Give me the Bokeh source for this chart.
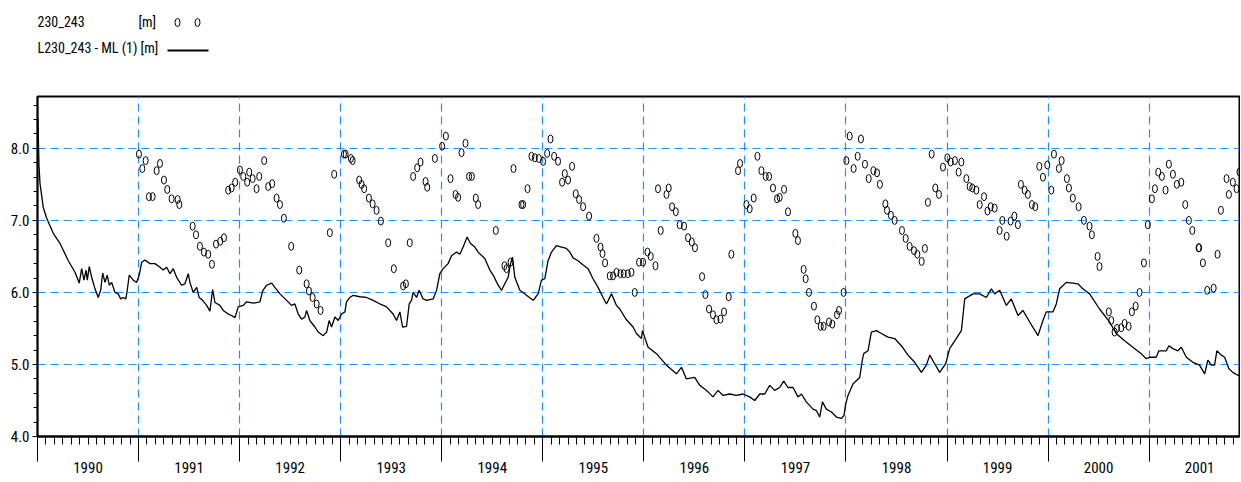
from bokeh.plotting import figure
from bokeh.models import (Range1d, LinearAxis, FixedTicker, SingleIntervalTicker,
                          PrintfTickFormatter, CustomJSTickFormatter, Grid, ColumnDataSource)
from bokeh.layouts import column
from bokeh.core.properties import value
from bokeh.embed import file_html
from bokeh.resources import INLINE

# ---------------- data (decimal years, metres) ----------------
years = list(range(1990, 2002))
year_labels = [str(y) for y in years]

line_t = [1990.004, 1990.015, 1990.025, 1990.057, 1990.091, 1990.156, 1990.223, 1990.305, 1990.371, 1990.413, 1990.437,
          1990.460, 1990.480, 1990.493, 1990.512, 1990.536, 1990.569, 1990.601, 1990.625, 1990.645, 1990.668,
          1990.690, 1990.710, 1990.734, 1990.767, 1990.799, 1990.823, 1990.849, 1990.875, 1990.888, 1990.908,
          1990.948, 1990.981, 1991.007, 1991.031, 1991.063, 1991.113, 1991.162, 1991.212, 1991.244, 1991.278,
          1991.311, 1991.343, 1991.377, 1991.426, 1991.459, 1991.492, 1991.508, 1991.541, 1991.575, 1991.600,
          1991.634, 1991.674, 1991.706, 1991.733, 1991.756, 1991.805, 1991.838, 1991.887, 1991.921, 1991.954,
          1991.986, 1992.036, 1992.069, 1992.135, 1992.201, 1992.228, 1992.267, 1992.317, 1992.349, 1992.399,
          1992.465, 1992.514, 1992.547, 1992.580, 1992.613, 1992.646, 1992.663, 1992.695, 1992.745, 1992.778,
          1992.827, 1992.861, 1992.886, 1992.910, 1992.943, 1992.975, 1993.009, 1993.042, 1993.058, 1993.091,
          1993.124, 1993.190, 1993.256, 1993.322, 1993.388, 1993.454, 1993.519, 1993.553, 1993.586, 1993.612,
          1993.652, 1993.678, 1993.701, 1993.717, 1993.751, 1993.776, 1993.816, 1993.850, 1993.915, 1993.949,
          1993.981, 1994.014, 1994.063, 1994.097, 1994.146, 1994.179, 1994.212, 1994.251, 1994.285, 1994.327,
          1994.360, 1994.426, 1994.476, 1994.509, 1994.558, 1994.592, 1994.624, 1994.657, 1994.681, 1994.700,
          1994.723, 1994.773, 1994.839, 1994.904, 1994.954, 1994.987, 1995.020, 1995.052, 1995.086, 1995.135,
          1995.185, 1995.234, 1995.267, 1995.300, 1995.349, 1995.399, 1995.448, 1995.497, 1995.547, 1995.596,
          1995.630, 1995.680, 1995.729, 1995.762, 1995.828, 1995.893, 1995.927, 1995.976, 1995.986, 1996.042,
          1996.125, 1996.224, 1996.322, 1996.372, 1996.421, 1996.503, 1996.553, 1996.635, 1996.684, 1996.734,
          1996.783, 1996.850, 1996.916, 1996.981, 1997.047, 1997.097, 1997.147, 1997.196, 1997.245, 1997.295,
          1997.344, 1997.384, 1997.426, 1997.476, 1997.525, 1997.559, 1997.608, 1997.674, 1997.707, 1997.740,
          1997.767, 1997.806, 1997.856, 1997.905, 1997.954, 1997.980, 1997.997, 1998.020, 1998.069, 1998.136,
          1998.162, 1998.175, 1998.218, 1998.251, 1998.301, 1998.350, 1998.416, 1998.482, 1998.548, 1998.614,
          1998.680, 1998.746, 1998.795, 1998.829, 1998.878, 1998.927, 1998.987, 1999.026, 1999.142, 1999.175,
          1999.257, 1999.323, 1999.389, 1999.439, 1999.472, 1999.521, 1999.587, 1999.636, 1999.702, 1999.751,
          1999.818, 1999.900, 1999.949, 1999.982, 2000.048, 2000.081, 2000.114, 2000.180, 2000.246, 2000.295,
          2000.344, 2000.411, 2000.509, 2000.608, 2000.674, 2000.757, 2000.839, 2000.922, 2000.971, 2001.004,
          2001.070, 2001.096, 2001.170, 2001.196, 2001.235, 2001.285, 2001.318, 2001.368, 2001.433, 2001.499,
          2001.549, 2001.581, 2001.615, 2001.647, 2001.670, 2001.714, 2001.747, 2001.789, 2001.828, 2001.878,
          2001.894]
line_v = [8.42, 7.75, 7.51, 7.18, 7.03, 6.82, 6.68, 6.44, 6.28, 6.13, 6.33,
          6.17, 6.31, 6.17, 6.36, 6.21, 6.05, 5.93, 6.03, 6.27, 6.14,
          6.24, 6.10, 6.14, 6.00, 5.98, 5.91, 5.93, 5.91, 6.03, 6.24,
          6.17, 6.14, 6.24, 6.42, 6.45, 6.40, 6.40, 6.35, 6.31, 6.35,
          6.26, 6.33, 6.21, 6.10, 6.12, 6.26, 6.14, 6.00, 6.07, 5.93,
          5.89, 5.82, 5.74, 6.04, 5.86, 5.82, 5.75, 5.70, 5.68, 5.65,
          5.80, 5.82, 5.87, 5.85, 5.87, 6.02, 6.10, 6.13, 6.07, 5.98,
          5.89, 5.82, 5.84, 5.70, 5.63, 5.66, 5.75, 5.61, 5.52, 5.45,
          5.40, 5.45, 5.61, 5.52, 5.66, 5.61, 5.70, 5.73, 5.87, 5.93,
          5.96, 5.94, 5.93, 5.89, 5.84, 5.80, 5.70, 5.61, 5.73, 5.52,
          5.53, 5.84, 5.89, 6.00, 5.93, 6.03, 5.91, 5.89, 5.91, 6.03,
          6.26, 6.33, 6.40, 6.51, 6.56, 6.53, 6.63, 6.77, 6.68, 6.63,
          6.56, 6.47, 6.31, 6.24, 6.10, 6.03, 6.12, 6.21, 6.40, 6.49,
          6.21, 6.03, 5.96, 5.89, 5.98, 6.17, 6.19, 6.44, 6.56, 6.65,
          6.63, 6.61, 6.56, 6.48, 6.44, 6.38, 6.33, 6.19, 6.07, 5.93,
          5.84, 5.98, 5.82, 5.77, 5.62, 5.52, 5.43, 5.36, 5.47, 5.24,
          5.15, 4.99, 4.87, 4.96, 4.80, 4.82, 4.71, 4.62, 4.55, 4.64,
          4.57, 4.59, 4.57, 4.59, 4.55, 4.50, 4.59, 4.59, 4.71, 4.64,
          4.68, 4.77, 4.68, 4.68, 4.55, 4.59, 4.48, 4.38, 4.36, 4.27,
          4.48, 4.38, 4.34, 4.27, 4.25, 4.29, 4.45, 4.57, 4.73, 4.82,
          5.06, 5.15, 5.19, 5.45, 5.47, 5.43, 5.38, 5.36, 5.26, 5.13,
          5.03, 4.89, 4.99, 5.13, 5.01, 4.89, 5.01, 5.22, 5.47, 5.91,
          5.98, 5.98, 5.93, 6.05, 5.98, 6.03, 5.82, 5.91, 5.68, 5.75,
          5.59, 5.40, 5.61, 5.73, 5.73, 5.84, 6.05, 6.14, 6.13, 6.12,
          6.05, 5.98, 5.77, 5.59, 5.43, 5.33, 5.24, 5.15, 5.08, 5.10,
          5.10, 5.19, 5.19, 5.26, 5.22, 5.19, 5.24, 5.10, 5.03, 4.99,
          4.87, 5.06, 4.99, 4.99, 5.19, 5.13, 5.10, 4.94, 4.89, 4.85,
          4.85]

obs_t = [1991.004, 1991.037, 1991.070, 1991.103, 1991.139, 1991.179, 1991.212, 1991.251, 1991.284, 1991.327,
         1991.387, 1991.403, 1991.535, 1991.568, 1991.607, 1991.647, 1991.689, 1991.726, 1991.766, 1991.808,
         1991.845, 1991.887, 1991.921, 1991.956, 1992.003, 1992.036, 1992.075, 1992.095, 1992.129, 1992.168,
         1992.194, 1992.243, 1992.283, 1992.322, 1992.366, 1992.399, 1992.438, 1992.510, 1992.590, 1992.663,
         1992.686, 1992.722, 1992.762, 1992.801, 1992.893, 1992.936, 1993.032, 1993.049, 1993.101, 1993.118,
         1993.183, 1993.207, 1993.232, 1993.279, 1993.316, 1993.355, 1993.398, 1993.470, 1993.526, 1993.618,
         1993.645, 1993.684, 1993.717, 1993.757, 1993.790, 1993.840, 1993.856, 1993.932, 1994.004, 1994.041,
         1994.087, 1994.137, 1994.162, 1994.196, 1994.235, 1994.271, 1994.298, 1994.337, 1994.360, 1994.535,
         1994.621, 1994.641, 1994.681, 1994.710, 1994.789, 1994.805, 1994.849, 1994.888, 1994.921, 1994.961,
         1995.003, 1995.043, 1995.076, 1995.112, 1995.151, 1995.191, 1995.218, 1995.250, 1995.290, 1995.326,
         1995.359, 1995.399, 1995.458, 1995.531, 1995.571, 1995.591, 1995.616, 1995.663, 1995.695, 1995.729,
         1995.769, 1995.801, 1995.841, 1995.877, 1995.910, 1995.953, 1995.992, 1996.036, 1996.068, 1996.115,
         1996.140, 1996.167, 1996.224, 1996.246, 1996.279, 1996.316, 1996.355, 1996.398, 1996.437, 1996.474,
         1996.506, 1996.576, 1996.609, 1996.645, 1996.684, 1996.718, 1996.758, 1996.793, 1996.840, 1996.866,
         1996.932, 1996.952, 1997.015, 1997.047, 1997.087, 1997.124, 1997.163, 1997.206, 1997.239, 1997.278,
         1997.318, 1997.344, 1997.387, 1997.426, 1997.499, 1997.525, 1997.581, 1997.601, 1997.634, 1997.683,
         1997.717, 1997.750, 1997.779, 1997.832, 1997.865, 1997.911, 1997.931, 1997.977, 1998.004, 1998.037,
         1998.076, 1998.116, 1998.148, 1998.188, 1998.225, 1998.271, 1998.307, 1998.336, 1998.390, 1998.406,
         1998.445, 1998.482, 1998.554, 1998.591, 1998.630, 1998.673, 1998.706, 1998.749, 1998.781, 1998.811,
         1998.848, 1998.884, 1998.920, 1998.960, 1999.003, 1999.036, 1999.078, 1999.115, 1999.142, 1999.191,
         1999.224, 1999.250, 1999.290, 1999.323, 1999.366, 1999.400, 1999.432, 1999.471, 1999.520, 1999.547,
         1999.590, 1999.629, 1999.666, 1999.701, 1999.731, 1999.768, 1999.800, 1999.840, 1999.873, 1999.913,
         1999.949, 1999.992, 2000.032, 2000.058, 2000.107, 2000.134, 2000.186, 2000.206, 2000.245, 2000.302,
         2000.354, 2000.410, 2000.433, 2000.490, 2000.509, 2000.601, 2000.625, 2000.658, 2000.681, 2000.724,
         2000.757, 2000.797, 2000.829, 2000.866, 2000.905, 2000.948, 2000.987, 2001.027, 2001.057, 2001.090,
         2001.126, 2001.162, 2001.195, 2001.235, 2001.274, 2001.318, 2001.357, 2001.393, 2001.427, 2001.489,
         2001.494, 2001.532, 2001.575, 2001.638, 2001.677, 2001.710, 2001.766, 2001.789, 2001.828, 2001.865,
         2001.894]
obs_v = [7.92, 7.72, 7.83, 7.33, 7.33, 7.69, 7.79, 7.56, 7.43, 7.30,
         7.29, 7.22, 6.92, 6.80, 6.64, 6.56, 6.53, 6.39, 6.67, 6.71,
         6.76, 7.42, 7.45, 7.53, 7.70, 7.61, 7.53, 7.67, 7.58, 7.44,
         7.61, 7.83, 7.47, 7.51, 7.31, 7.22, 7.03, 6.64, 6.31, 6.12,
         6.02, 5.93, 5.84, 5.75, 6.83, 7.64, 7.92, 7.92, 7.86, 7.83,
         7.56, 7.50, 7.44, 7.31, 7.23, 7.14, 6.99, 6.69, 6.33, 6.09,
         6.12, 6.69, 7.61, 7.73, 7.81, 7.54, 7.46, 7.86, 8.03, 8.17,
         7.58, 7.36, 7.32, 7.94, 8.07, 7.61, 7.61, 7.31, 7.22, 6.86,
         6.37, 6.33, 6.42, 7.72, 7.22, 7.22, 7.44, 7.89, 7.87, 7.86,
         7.82, 7.93, 8.13, 7.89, 7.82, 7.53, 7.65, 7.56, 7.75, 7.37,
         7.29, 7.19, 7.06, 6.75, 6.63, 6.54, 6.41, 6.23, 6.23, 6.28,
         6.26, 6.26, 6.26, 6.28, 6.00, 6.42, 6.42, 6.56, 6.50, 6.37,
         7.44, 6.86, 7.36, 7.45, 7.19, 7.12, 6.94, 6.92, 6.76, 6.70,
         6.62, 6.22, 5.97, 5.77, 5.69, 5.62, 5.63, 5.73, 5.94, 6.53,
         7.69, 7.79, 7.22, 7.16, 7.31, 7.89, 7.69, 7.61, 7.61, 7.45,
         7.30, 7.32, 7.43, 7.12, 6.82, 6.72, 6.32, 6.19, 6.00, 5.81,
         5.62, 5.53, 5.53, 5.59, 5.56, 5.69, 5.75, 6.00, 7.83, 8.17,
         7.72, 7.89, 8.13, 7.78, 7.58, 7.69, 7.66, 7.50, 7.23, 7.14,
         7.07, 7.00, 6.86, 6.75, 6.64, 6.58, 6.53, 6.43, 6.61, 7.25,
         7.92, 7.45, 7.36, 7.74, 7.87, 7.81, 7.83, 7.67, 7.81, 7.58,
         7.47, 7.45, 7.42, 7.22, 7.33, 7.13, 7.19, 7.17, 6.86, 7.00,
         6.78, 6.99, 7.06, 6.94, 7.50, 7.42, 7.36, 7.22, 7.19, 7.75,
         7.60, 7.77, 7.42, 7.92, 7.72, 7.83, 7.58, 7.45, 7.31, 7.19,
         7.00, 6.92, 6.80, 6.50, 6.36, 5.73, 5.61, 5.45, 5.50, 5.51,
         5.57, 5.53, 5.73, 5.81, 6.00, 6.41, 6.94, 7.30, 7.44, 7.67,
         7.61, 7.42, 7.78, 7.64, 7.50, 7.53, 7.22, 7.00, 6.86, 6.62,
         6.62, 6.41, 6.03, 6.06, 6.53, 7.14, 7.58, 7.36, 7.53, 7.44,
         7.67]

legend_obs = "230_243"
legend_unit = "[m]"
legend_line = "L230_243 - ML (1) [m]"

# ---------------- styling ----------------
FONT = "'Liberation Sans Narrow', 'Arial Narrow', 'Roboto Condensed', sans-serif"
FS = "15px"
FS_LEGEND = "14px"
GRID = "#1E90FF"
W = 1240
BORDER_L = 37
BORDER_R = 1

x_start, x_end = 1990.0, 2001.894
year_bounds = years + [years[-1] + 1]
month_ticks = [y + m / 12.0 for y in years for m in range(1, 12)]
label_pos = [y + 0.5 for y in years]

# ---------------- legend strip (pixel coordinates of the page) ----------------
lg = figure(width=W, height=56, x_range=Range1d(BORDER_L, W - BORDER_R), y_range=Range1d(56, 0),
            output_backend="svg", toolbar_location=None, x_axis_type=None, y_axis_type=None,
            outline_line_color=None, min_border_left=BORDER_L, min_border_right=BORDER_R,
            min_border_top=0, min_border_bottom=0)
lg.text(x=[37, 138, 37], y=[21, 21, 47], text=[legend_obs, legend_unit, legend_line],
        text_baseline="middle", text_align="left", text_font=value(FONT),
        text_font_size=FS_LEGEND, text_color="black")
lg.ellipse(x=[177, 197], y=[22, 22], width=5, height=8, width_units="screen",
           height_units="screen", fill_color=None, line_color="black", line_width=1)
lg.line(x=[167, 208], y=[50, 50], line_color="black", line_width=2)

# ---------------- main chart ----------------
p = figure(width=W, height=419, x_range=Range1d(x_start, x_end), y_range=Range1d(4.0, 8.72),
           output_backend="svg", toolbar_location=None, x_axis_type=None, y_axis_type=None,
           min_border_left=BORDER_L, min_border_right=BORDER_R, min_border_top=40, min_border_bottom=0)
p.outline_line_color = "black"
p.outline_line_width = 2

p.add_layout(Grid(dimension=0, ticker=FixedTicker(ticks=year_bounds), grid_line_color=GRID,
                  grid_line_width=1.2, grid_line_dash="8 5"))
p.add_layout(Grid(dimension=1, ticker=FixedTicker(ticks=[5, 6, 7, 8]), grid_line_color=GRID,
                  grid_line_width=1.2, grid_line_dash="8 5"))

yaxis = LinearAxis(ticker=SingleIntervalTicker(interval=1, num_minor_ticks=5),
                   formatter=PrintfTickFormatter(format="%.1f"),
                   axis_line_color="black", axis_line_width=1.5,
                   major_tick_in=0, major_tick_out=5, minor_tick_in=0, minor_tick_out=4,
                   major_tick_line_color="black", minor_tick_line_color="black",
                   major_label_standoff=3, major_label_text_font=FONT,
                   major_label_text_font_size=FS, major_label_text_color="black")
p.add_layout(yaxis, "left")

xaxis_ticks = LinearAxis(ticker=FixedTicker(ticks=year_bounds, minor_ticks=month_ticks),
                         formatter=CustomJSTickFormatter(code="return ''"),
                         axis_line_color="black", axis_line_width=2,
                         major_tick_in=0, major_tick_out=25, minor_tick_in=0, minor_tick_out=8,
                         major_tick_line_color="black", minor_tick_line_color="black",
                         major_label_standoff=0, major_label_text_font_size="1px")
p.add_layout(xaxis_ticks, "below")

xaxis_labels = LinearAxis(ticker=FixedTicker(ticks=label_pos, minor_ticks=[]),
                          formatter=CustomJSTickFormatter(args=dict(pos=label_pos, labels=year_labels),
                                                          code="const i = pos.indexOf(tick); return i >= 0 ? labels[i] : '';"),
                          axis_line_color=None, major_tick_in=0, major_tick_out=0,
                          minor_tick_in=0, minor_tick_out=0, major_label_standoff=0,
                          major_label_text_font=FONT, major_label_text_font_size=FS,
                          major_label_text_color="black")
p.add_layout(xaxis_labels, "below")

src_line = ColumnDataSource(dict(t=line_t, v=line_v))
src_obs = ColumnDataSource(dict(t=obs_t, v=obs_v))
p.line("t", "v", source=src_line, line_color="black", line_width=1.3)
p.ellipse("t", "v", source=src_obs, width=5, height=8, width_units="screen", height_units="screen",
          fill_color=None, line_color="black", line_width=1)

layout = column(lg, p, spacing=0)
open("out.html", "w").write(file_html(layout, INLINE))
